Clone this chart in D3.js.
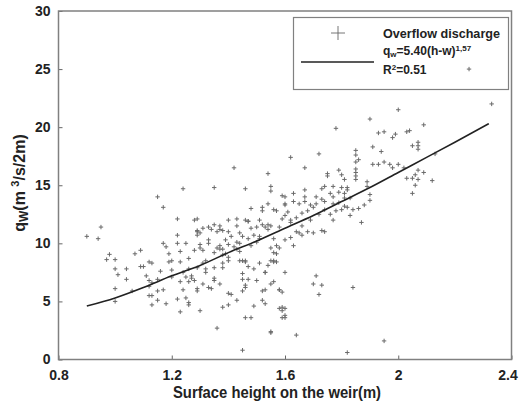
<!DOCTYPE html>
<html><head><meta charset="utf-8">
<script src="https://cdn.jsdelivr.net/npm/d3@7"></script>
<style>
html,body{margin:0;padding:0;background:#fff;}
svg{display:block;}
text{font-family:"Liberation Sans",Arial,sans-serif;font-weight:bold;fill:#222;}
</style></head>
<body>
<svg id="chart" width="520" height="405"></svg>
<script>
// ---- data ----
const xTicks = [0.8, 1.2, 1.6, 2, 2.4];
const xTickLabels = ["0.8", "1.2", "1.6", "2", "2.4"];
const yTicks = [0, 5, 10, 15, 20, 25, 30];
const yTickLabels = ["0", "5", "10", "15", "20", "25", "30"];

// observed points: surface height h (m) and discharge q (m3/s/2m)
const obsH = [0.90,0.94,0.95,0.97,0.98,1.00,1.00,1.01,1.04,1.04,1.07,1.09,1.00,1.00,1.06,1.09,1.10,1.11,1.12,1.13,1.12,1.12,1.13,1.15,1.12,1.13,1.15,1.15,1.13,1.18,1.17,1.15,1.17,1.16,1.18,1.17,1.19,1.19,1.20,1.20,1.20,1.22,1.22,1.22,1.23,1.23,1.24,1.23,1.24,1.22,1.23,1.24,1.25,1.26,1.26,1.27,1.28,1.28,1.29,1.29,1.30,1.30,1.31,1.32,1.32,1.31,1.29,1.26,1.26,1.30,1.33,1.33,1.35,1.35,1.35,1.34,1.35,1.37,1.38,1.36,1.37,1.37,1.38,1.38,1.38,1.37,1.36,1.38,1.40,1.40,1.40,1.40,1.40,1.40,1.43,1.43,1.43,1.44,1.43,1.44,1.44,1.45,1.46,1.46,1.47,1.45,1.45,1.46,1.43,1.45,1.46,1.47,1.48,1.47,1.48,1.46,1.48,1.45,1.49,1.50,1.42,1.46,1.40,1.41,1.25,1.25,1.27,1.26,1.29,1.33,1.35,1.32,1.29,1.31,1.38,1.28,1.30,1.33,1.36,1.39,1.49,1.51,1.53,1.54,1.55,1.56,1.56,1.55,1.56,1.57,1.58,1.50,1.49,1.51,1.52,1.53,1.52,1.53,1.55,1.56,1.58,1.59,1.59,1.59,1.60,1.55,1.58,1.60,1.54,1.55,1.55,1.59,1.60,1.52,1.52,1.54,1.56,1.57,1.60,1.29,1.31,1.35,1.34,1.29,1.37,1.46,1.47,1.51,1.52,1.53,1.54,1.55,1.59,1.60,1.61,1.60,1.62,1.58,1.54,1.51,1.50,1.57,1.56,1.57,1.53,1.58,1.60,1.59,1.60,1.55,1.64,1.71,1.70,1.73,1.72,1.84,1.87,1.95,1.82,1.68,1.70,1.73,1.74,2.00,1.90,1.78,1.93,1.95,1.98,1.62,1.72,1.91,1.94,1.85,1.85,1.86,1.85,1.91,1.93,1.95,1.97,1.98,1.67,1.85,1.85,1.85,1.79,1.75,1.75,1.80,1.81,1.85,1.89,1.89,1.73,1.67,1.74,1.77,1.80,1.82,1.79,1.81,1.82,1.76,1.77,1.81,1.83,1.74,1.67,1.63,1.69,1.71,1.90,1.90,1.73,1.71,1.67,1.65,1.70,1.77,1.79,1.81,2.33,2.09,2.04,2.07,2.05,2.07,2.07,2.13,2.00,2.02,2.07,2.09,2.06,2.03,2.05,2.07,2.12,2.06,2.05,2.25,1.99,2.03,1.63,1.84,1.86,1.88,1.76,1.78,1.80,1.82,1.66,1.68,1.72,1.74,1.62,1.64,1.66,1.69,1.77,1.83,1.45,1.47,1.48,1.44,1.42,1.39,1.41,1.64,1.66,1.60,1.62,1.63,1.65];
const obsQ = [10.6,10.4,11.4,8.6,9.05,8.6,7.8,7.3,6.9,7.8,9.1,9.4,6.1,5.0,5.9,8.0,8.0,7.2,8.4,8.3,6.8,6.3,6.6,6.9,5.5,5.5,5.9,5.1,4.7,4.8,13.1,14.0,6.0,7.6,9.7,10.0,9.1,8.4,8.5,7.7,7.1,12.1,10.7,10.0,9.3,8.4,7.5,6.7,6.0,5.2,4.1,14.7,10.0,8.7,7.8,7.2,6.8,12.0,10.7,11.0,10.9,9.9,9.4,8.5,7.8,6.5,5.9,4.9,4.7,4.2,11.4,10.3,9.2,7.9,6.8,6.1,14.8,11.5,11.1,11.0,9.8,9.5,9.5,9.0,8.3,6.5,2.7,4.5,4.7,12.0,11.0,9.9,8.8,8.5,9.5,10.1,11.5,10.9,12.1,10.0,8.5,8.5,8.5,8.4,8.0,7.4,6.9,6.4,5.1,5.9,6.2,6.9,13.0,11.9,11.3,3.6,3.6,0.8,4.6,6.8,16.5,14.7,5.7,5.6,5.3,7.1,7.0,6.7,6.1,6.2,7.0,7.5,7.9,8.3,7.9,9.4,9.6,10.0,9.6,9.1,7.8,8.3,7.5,8.1,8.5,8.4,9.2,9.6,10.4,9.8,9.6,10.1,10.7,10.4,5.1,4.8,5.9,6.0,6.5,6.7,6.0,5.8,4.5,4.2,3.8,2.3,4.4,7.5,16.0,14.9,14.5,14.1,14.0,13.1,12.8,13.4,12.9,12.8,13.3,12.1,11.3,11.6,11.2,11.1,11.2,12.0,11.9,12.0,11.6,11.4,11.6,11.5,12.1,12.4,12.7,13.4,12.0,11.4,11.2,10.6,11.4,9.1,8.5,8.4,7.5,6.0,4.4,3.6,3.6,2.4,2.1,7.2,6.5,6.4,5.6,6.2,11.8,1.6,0.6,11.0,10.9,11.1,11.0,21.5,20.7,19.9,19.5,19.6,19.1,17.4,17.7,18.3,17.9,18.0,17.6,17.2,17.0,16.8,16.8,17.0,16.8,16.5,16.5,16.4,16.1,15.8,16.3,16.0,15.8,15.9,15.5,15.5,15.3,14.9,14.7,14.6,14.9,14.9,14.8,14.8,14.4,14.3,14.6,14.3,14.0,13.9,13.9,13.6,14.0,13.6,13.3,13.4,14.2,13.7,13.8,14.0,13.6,13.4,13.1,13.4,13.5,13.2,22.0,20.2,19.7,18.7,18.4,18.4,18.1,17.7,16.8,16.5,16.3,16.1,15.9,15.6,15.6,15.5,15.4,15.0,14.3,25.0,19.4,19.6,14.3,12.9,13.0,13.3,12.5,12.8,12.9,13.1,12.6,12.8,12.5,12.9,11.8,12.2,11.5,12.0,12.0,12.4,10.6,10.4,9.8,9.3,9.7,10.3,10.6,11.0,10.7,10.3,10.5,9.8,10.9];

// fitted curve, points
const fitH = [0.90, 1.00, 1.10, 1.20, 1.30, 1.40, 1.50, 1.60, 1.70, 1.80, 1.90, 2.00, 2.10, 2.20, 2.32];
const fitQ = [4.6, 5.3, 6.2, 7.2, 8.1, 9.2, 10.2, 11.3, 12.4, 13.6, 14.8, 16.1, 17.4, 18.7, 20.3];

const legendSeries = "Overflow discharge";

// ---- drawing ----
const svg = d3.select("#chart");
svg.append("rect").attr("width", 520).attr("height", 405).attr("fill", "#fff");

const x = d3.scaleLinear().domain([0.8, 2.4]).range([58.5, 511.5]);
const y = d3.scaleLinear().domain([0, 30]).range([359.5, 11]);

// axes with inward ticks
const gx = svg.append("g").attr("transform", `translate(0,${y(0)})`)
  .call(d3.axisBottom(x).tickValues(xTicks).tickFormat((d, i) => xTickLabels[i]).tickSize(-4).tickPadding(11));
const gy = svg.append("g").attr("transform", `translate(${x(0.8)},0)`)
  .call(d3.axisLeft(y).tickValues(yTicks).tickFormat((d, i) => yTickLabels[i]).tickSize(-4).tickPadding(8));
[gx, gy].forEach(g => {
  g.select(".domain").remove();
  g.selectAll(".tick line").attr("stroke", "#666").attr("stroke-width", 1);
  g.selectAll(".tick text").attr("font-size", 14).attr("font-weight", "bold")
    .attr("font-family", "Liberation Sans, Arial, sans-serif").attr("fill", "#222");
});
// keep the last x label inside the picture, as in the reference
gx.selectAll(".tick text").filter((d, i) => i === xTicks.length - 1).attr("dx", -4);

// frame
svg.append("rect")
  .attr("x", x(0.8)).attr("y", y(30))
  .attr("width", x(2.4) - x(0.8)).attr("height", y(0) - y(30))
  .attr("fill", "none").attr("stroke", "#808080").attr("stroke-width", 1.5);

// legend (drawn first, unfilled, so a data point inside it stays visible)
const lg = svg.append("g");
lg.append("rect").attr("x", 293.5).attr("y", 17.5).attr("width", 215).attr("height", 72)
  .attr("fill", "none").attr("stroke", "#808080").attr("stroke-width", 1.2);
lg.append("path").attr("d", "M331,33H345M338,26V40").attr("stroke", "#666").attr("stroke-width", 0.9);
lg.append("line").attr("x1", 301).attr("x2", 374).attr("y1", 62).attr("y2", 62)
  .attr("stroke", "#222").attr("stroke-width", 1.4);
lg.append("text").attr("x", 383).attr("y", 37.5).attr("font-size", 13)
  .attr("textLength", 117).attr("lengthAdjust", "spacingAndGlyphs").text(legendSeries);
const f = lg.append("text").attr("x", 383).attr("y", 55).attr("font-size", 12);
f.append("tspan").text("q");
f.append("tspan").attr("font-size", 8).attr("dy", 2).text("w");
f.append("tspan").attr("dy", -2).text("=5.40(h-w)");
f.append("tspan").attr("font-size", 8).attr("dy", -4).text("1,57");
const r = lg.append("text").attr("x", 383).attr("y", 74).attr("font-size", 12);
r.append("tspan").text("R");
r.append("tspan").attr("font-size", 8).attr("dy", -4).text("2");
r.append("tspan").attr("dy", 4).text("=0.51");

// scatter of plus markers
const pts = obsH.map((h, i) => [h, obsQ[i]]);
const arm = 2.2;
svg.append("g").selectAll("path").data(pts).join("path")
  .attr("d", d => {
    const px = x(d[0]), py = y(d[1]);
    return `M${px - arm},${py}H${px + arm}M${px},${py - arm}V${py + arm}`;
  })
  .attr("stroke", "#6a6a6a").attr("stroke-width", 1).attr("fill", "none");

// fitted line
const fitPts = fitH.map((h, i) => [h, fitQ[i]]);
svg.append("path").datum(fitPts)
  .attr("d", d3.line().x(d => x(d[0])).y(d => y(d[1])).curve(d3.curveMonotoneX))
  .attr("fill", "none").attr("stroke", "#222").attr("stroke-width", 1.6);

// axis titles
svg.append("text").attr("x", 277).attr("y", 398).attr("text-anchor", "middle")
  .attr("font-size", 16).attr("textLength", 208).attr("lengthAdjust", "spacingAndGlyphs")
  .text("Surface height on the weir(m)");

const yt = svg.append("text").attr("transform", "translate(25,183) rotate(-90)")
  .attr("text-anchor", "middle").attr("font-size", 16);
yt.append("tspan").text("q");
yt.append("tspan").attr("font-size", 12).attr("dy", 3).text("W");
yt.append("tspan").attr("dy", -3).text("(m ");
yt.append("tspan").attr("font-size", 11).attr("dy", -6).text("3");
yt.append("tspan").attr("dy", 6).text("/s/2m)");
</script>
</body></html>
